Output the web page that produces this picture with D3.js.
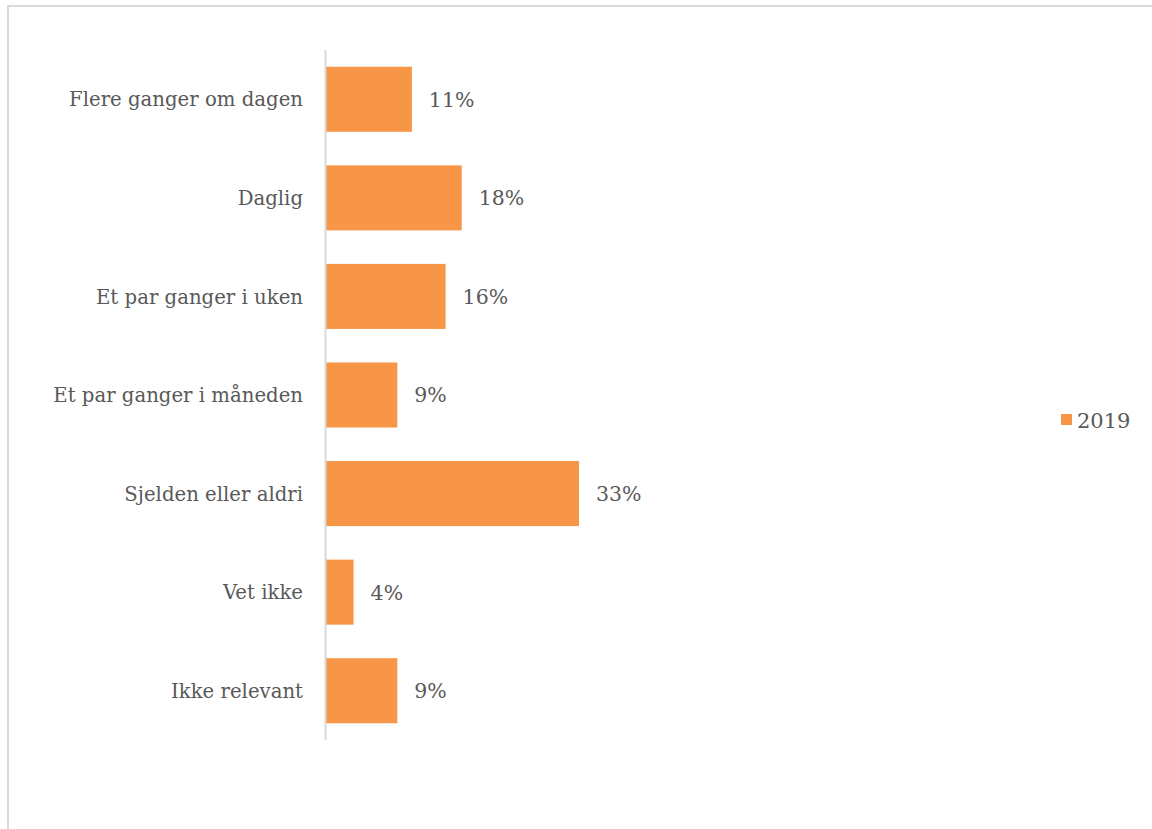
<!DOCTYPE html>
<html><head><meta charset="utf-8">
<script src="https://cdn.jsdelivr.net/npm/d3@7"></script>
<style>body{margin:0;background:#fff;}svg{display:block;}</style>
</head><body>
<svg id="chart" width="1152" height="829"></svg>
<script>
const categories = ["Flere ganger om dagen","Daglig","Et par ganger i uken","Et par ganger i måneden","Sjelden eller aldri","Vet ikke","Ikke relevant"];
const values2019 = [11.2, 17.7, 15.6, 9.3, 33.0, 3.6, 9.3];
const seriesName = "2019";

const svg = d3.select("#chart");
const font = "DejaVu Serif";
const textColor = "#595959";
const barColor = "#f79646";

// frame
svg.append("rect").attr("x",8).attr("y",6).attr("width",1160).attr("height",840)
  .attr("fill","none").attr("stroke","#d9d9d9").attr("stroke-width",2);

const y = d3.scaleBand().domain(categories).range([50,740]).paddingInner(0.34).paddingOuter(0.17);
const x = d3.scaleLinear().domain([0,33]).range([326,579]);

svg.selectAll("rect.bar").data(categories).join("rect").attr("class","bar")
  .attr("x",x(0)).attr("y",d=>y(d)).attr("width",(d,i)=>x(values2019[i])-x(0)).attr("height",y.bandwidth())
  .attr("fill",barColor);

svg.append("line").attr("x1",325.5).attr("x2",325.5).attr("y1",50).attr("y2",740)
  .attr("stroke","#d9d9d9").attr("stroke-width",2);

svg.selectAll("text.cat").data(categories).join("text").attr("class","cat")
  .attr("x",303).attr("y",d=>y(d)+y.bandwidth()/2).attr("dy","0.36em")
  .attr("text-anchor","end").attr("font-family",font).attr("font-size",19.7).attr("fill",textColor)
  .text(d=>d);

svg.selectAll("text.val").data(categories).join("text").attr("class","val")
  .attr("x",(d,i)=>x(values2019[i])+17).attr("y",d=>y(d)+y.bandwidth()/2).attr("dy","0.36em")
  .attr("font-family",font).attr("font-size",20.5).attr("fill",textColor)
  .text((d,i)=>Math.round(values2019[i])+"%");

// legend
svg.append("rect").attr("x",1061).attr("y",414).attr("width",11).attr("height",11).attr("fill",barColor);
svg.append("text").attr("x",1077).attr("y",420).attr("dy","0.36em").attr("font-family",font)
  .attr("font-size",21).attr("fill",textColor).text(seriesName);
</script>
</body></html>
